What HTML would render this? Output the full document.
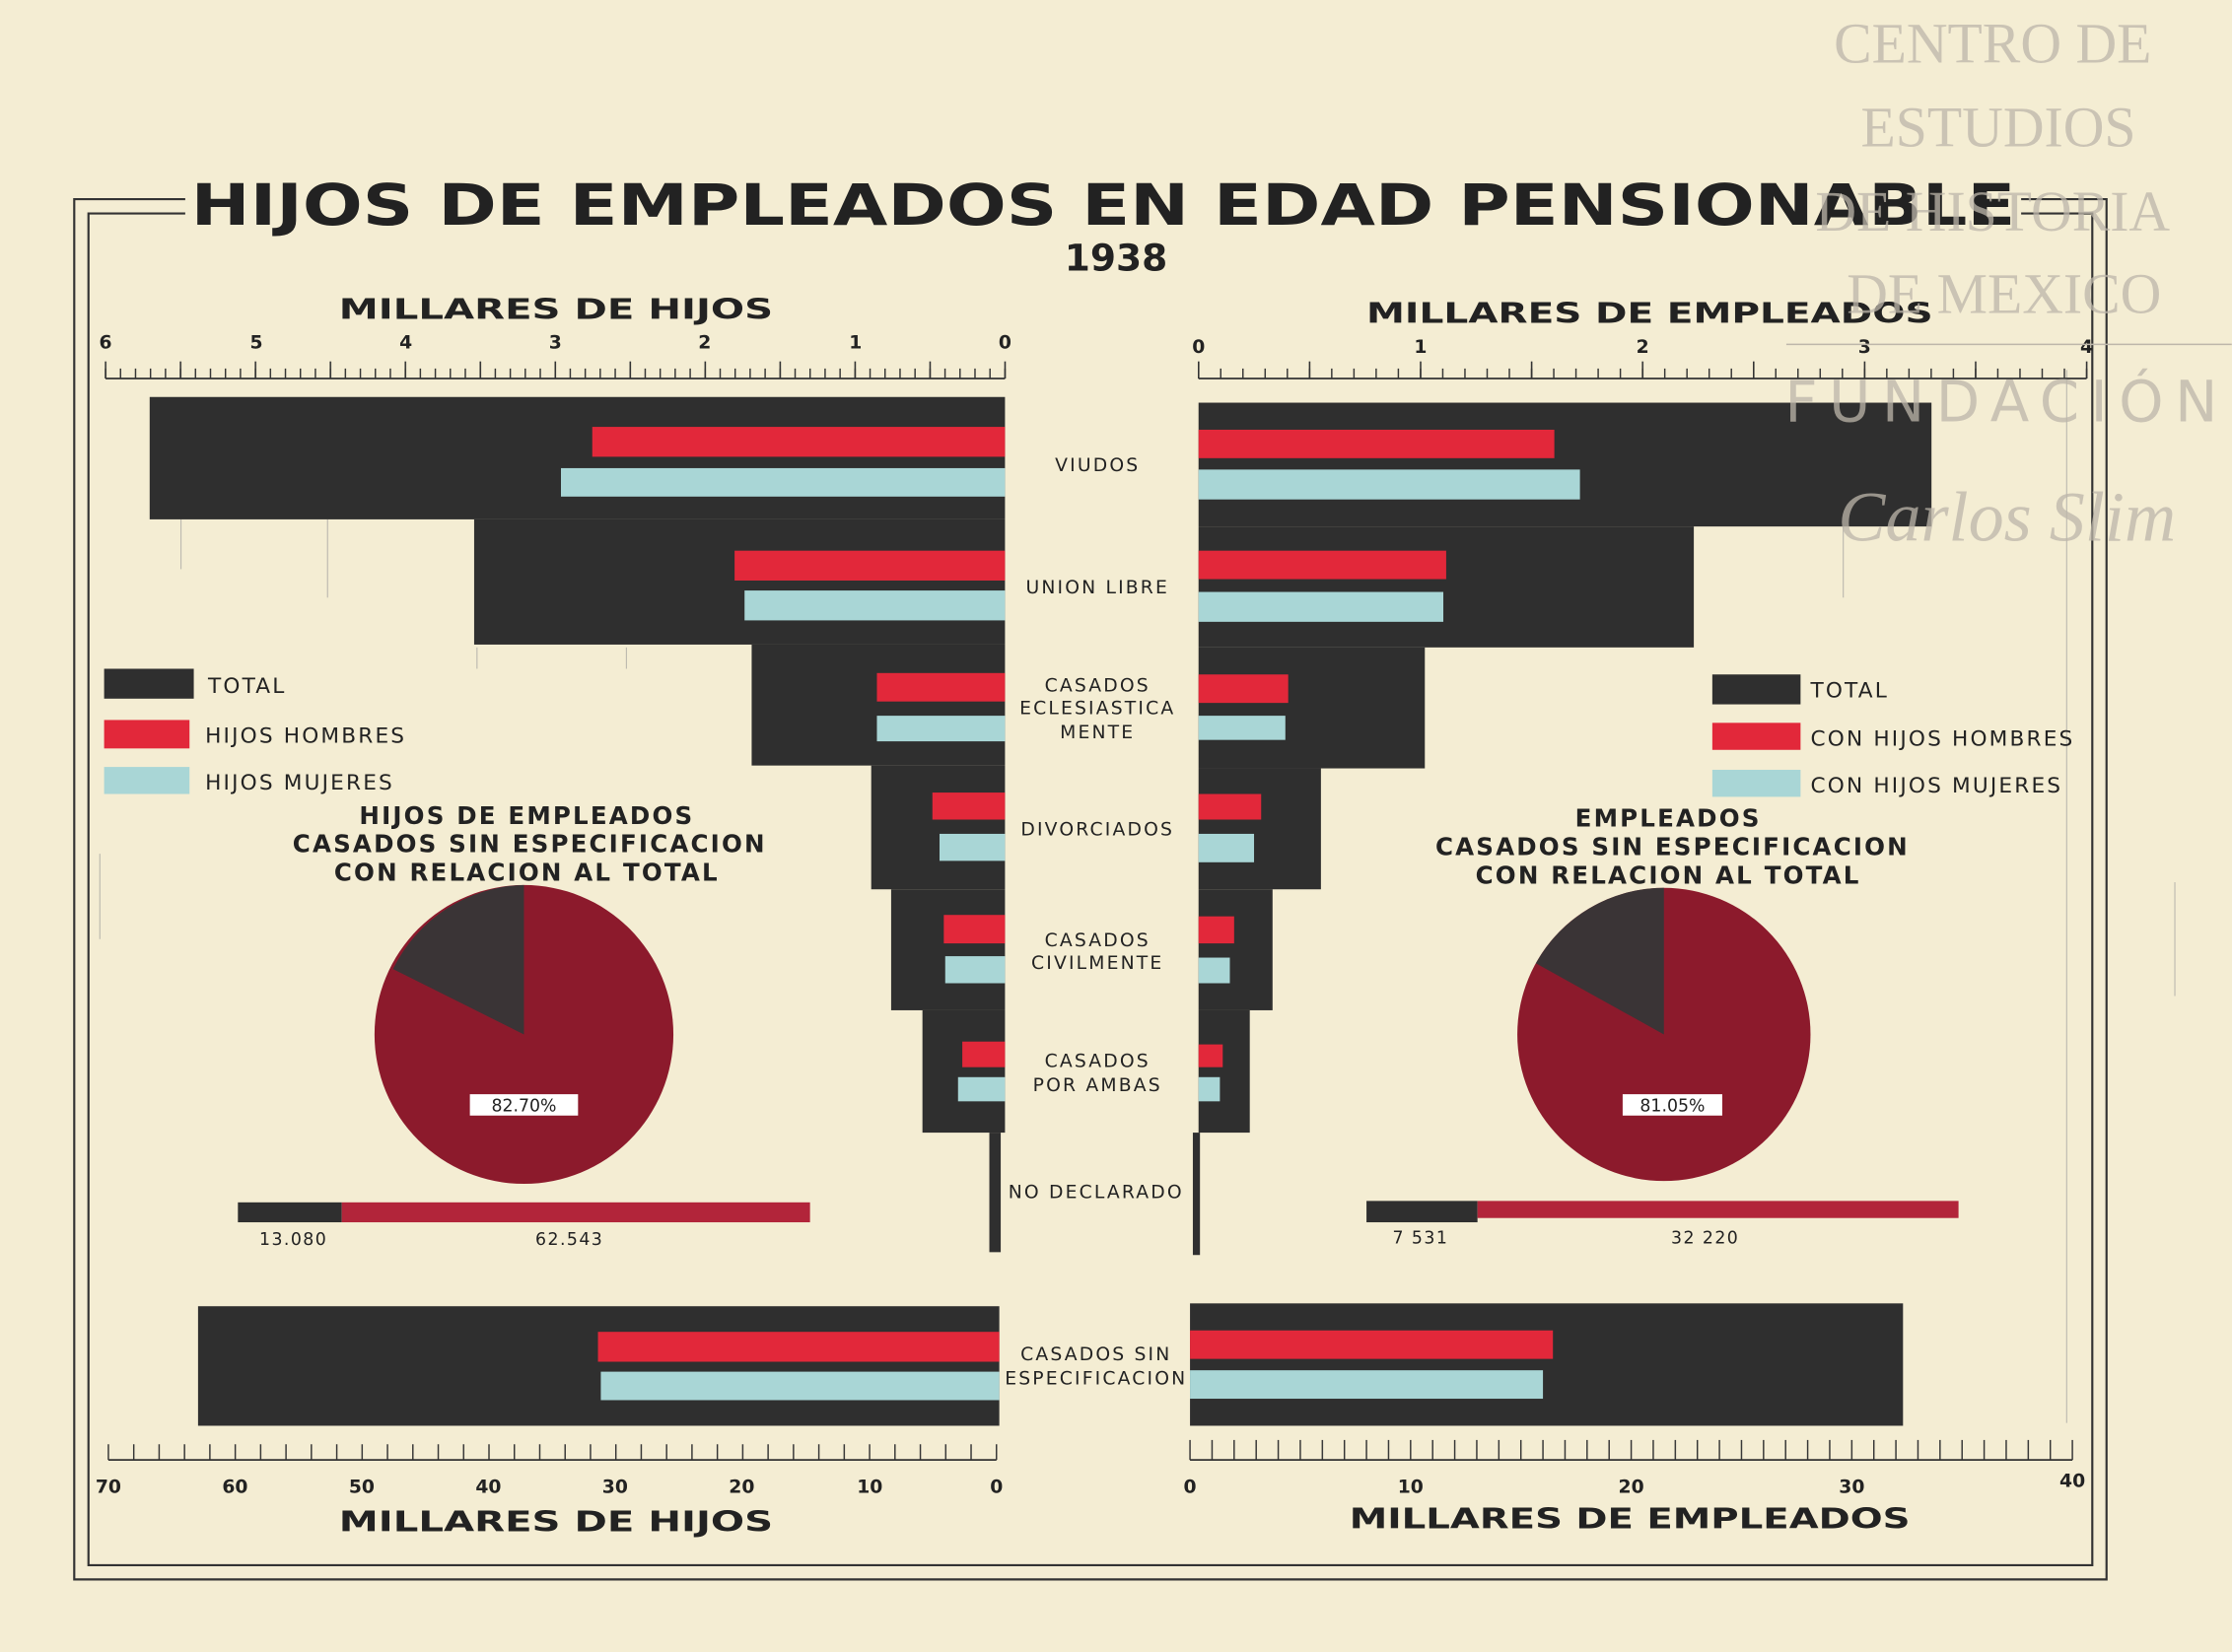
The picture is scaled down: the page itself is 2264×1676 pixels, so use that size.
<!DOCTYPE html>
<html><head><meta charset="utf-8"><style>
html,body{margin:0;padding:0;background:#f4edd3}
svg{display:block}
text{font-family:"DejaVu Sans","Liberation Sans",sans-serif;fill:#222}
</style></head><body>
<svg width="2264" height="1676" viewBox="0 0 1568 1161" xmlns="http://www.w3.org/2000/svg">
<defs>
<pattern id="pL1" patternUnits="userSpaceOnUse" x="73.5" y="0" width="10.5333" height="1161"><line x1="0.5" y1="259" x2="0.5" y2="266" stroke="#333" stroke-width="1"/></pattern>
<pattern id="pL2" patternUnits="userSpaceOnUse" x="73.5" y="0" width="52.667" height="1161"><line x1="0.5" y1="254" x2="0.5" y2="266" stroke="#333" stroke-width="1.2"/></pattern>
<pattern id="pR1" patternUnits="userSpaceOnUse" x="841.5" y="0" width="15.6" height="1161"><line x1="0.5" y1="259" x2="0.5" y2="266" stroke="#333" stroke-width="1"/></pattern>
<pattern id="pR2" patternUnits="userSpaceOnUse" x="841.5" y="0" width="78" height="1161"><line x1="0.5" y1="254" x2="0.5" y2="266" stroke="#333" stroke-width="1.2"/></pattern>
<pattern id="bL1" patternUnits="userSpaceOnUse" x="75.5" y="0" width="17.829" height="1161"><line x1="0.5" y1="1015" x2="0.5" y2="1026" stroke="#333" stroke-width="1"/></pattern>
<pattern id="bR1" patternUnits="userSpaceOnUse" x="835.5" y="0" width="15.5" height="1161"><line x1="0.5" y1="1012" x2="0.5" y2="1026" stroke="#333" stroke-width="1"/></pattern>
</defs>
<rect width="1568" height="1161" fill="#f4edd3"/>
<rect x="73" y="250" width="635" height="17" fill="url(#pL1)"/>
<rect x="73" y="250" width="635" height="17" fill="url(#pL2)"/>
<rect x="841" y="250" width="627" height="17" fill="url(#pR1)"/>
<rect x="841" y="250" width="627" height="17" fill="url(#pR2)"/>
<rect x="75" y="1005" width="627" height="22" fill="url(#bL1)"/>
<rect x="835" y="1005" width="623" height="22" fill="url(#bR1)"/>
<!-- frame -->
<g fill="none" stroke="#333" stroke-width="1.5">
<path d="M130 140 H52 V1110 H1480 V140 H1420"/>
<path d="M130 150 H62 V1100 H1470 V150 H1420"/>
</g>
<g stroke="#999" stroke-width="0.8" opacity="0.6">
<line x1="127" y1="365" x2="127" y2="400"/><line x1="230" y1="365" x2="230" y2="420"/>
<line x1="335" y1="455" x2="335" y2="470"/><line x1="440" y1="455" x2="440" y2="470"/>
<line x1="1295" y1="370" x2="1295" y2="420"/><line x1="1452" y1="260" x2="1452" y2="1000"/>
<line x1="70" y1="600" x2="70" y2="660"/><line x1="1528" y1="620" x2="1528" y2="700"/>
</g>
<text x="134" y="158" font-size="40" font-weight="bold" textLength="1282" lengthAdjust="spacingAndGlyphs">HIJOS DE EMPLEADOS EN EDAD PENSIONABLE</text>
<text x="784" y="190" font-size="26" font-weight="bold" text-anchor="middle">1938</text>
<text x="238" y="224" font-size="20" font-weight="bold" textLength="305" lengthAdjust="spacingAndGlyphs">MILLARES DE HIJOS</text>
<text x="960" y="227" font-size="20" font-weight="bold" textLength="398" lengthAdjust="spacingAndGlyphs">MILLARES DE EMPLEADOS</text>
<g stroke="#333" stroke-width="1.2">
<line x1="74" y1="266" x2="706" y2="266"/><line x1="842" y1="266" x2="1466" y2="266"/>
<line x1="76" y1="1026" x2="700" y2="1026"/><line x1="836" y1="1026" x2="1456" y2="1026"/>
</g>
<g font-size="13" font-weight="bold" text-anchor="middle">
<text x="74" y="245">6</text><text x="180" y="245">5</text><text x="285" y="245">4</text><text x="390" y="245">3</text><text x="495" y="245">2</text><text x="601" y="245">1</text><text x="706" y="245">0</text>
<text x="842" y="248">0</text><text x="998" y="248">1</text><text x="1154" y="248">2</text><text x="1310" y="248">3</text><text x="1466" y="248">4</text>
<text x="76" y="1049">70</text><text x="165" y="1049">60</text><text x="254" y="1049">50</text><text x="343" y="1049">40</text><text x="432" y="1049">30</text><text x="521" y="1049">20</text><text x="611" y="1049">10</text><text x="700" y="1049">0</text>
<text x="836" y="1049">0</text><text x="991" y="1049">10</text><text x="1146" y="1049">20</text><text x="1301" y="1049">30</text><text x="1456" y="1045">40</text>
</g>
<text x="238" y="1076" font-size="20" font-weight="bold" textLength="305" lengthAdjust="spacingAndGlyphs">MILLARES DE HIJOS</text>
<text x="948" y="1074" font-size="20" font-weight="bold" textLength="394" lengthAdjust="spacingAndGlyphs">MILLARES DE EMPLEADOS</text>
<g fill="#2f2f2f">
<rect x="105" y="279" width="601" height="86"/><rect x="333" y="365" width="373" height="88"/>
<rect x="528" y="453" width="178" height="85"/><rect x="612" y="538" width="94" height="87"/>
<rect x="626" y="625" width="80" height="85"/><rect x="648" y="710" width="58" height="86"/>
<rect x="695" y="796" width="8" height="84"/><rect x="139" y="918" width="563" height="84"/>
<rect x="842" y="283" width="515" height="87"/><rect x="842" y="370" width="348" height="85"/>
<rect x="842" y="455" width="159" height="85"/><rect x="842" y="540" width="86" height="85"/>
<rect x="842" y="625" width="52" height="85"/><rect x="842" y="710" width="36" height="86"/>
<rect x="838" y="796" width="5" height="86"/><rect x="836" y="916" width="501" height="86"/>
</g>
<g fill="#e2283a">
<rect x="416" y="300" width="290" height="21"/><rect x="516" y="387" width="190" height="21"/>
<rect x="616" y="473" width="90" height="20"/><rect x="655" y="557" width="51" height="19"/>
<rect x="663" y="643" width="43" height="20"/><rect x="676" y="732" width="30" height="18"/>
<rect x="420" y="936" width="282" height="21"/>
<rect x="842" y="302" width="250" height="20"/><rect x="842" y="387" width="174" height="20"/>
<rect x="842" y="474" width="63" height="20"/><rect x="842" y="558" width="44" height="18"/>
<rect x="842" y="644" width="25" height="19"/><rect x="842" y="734" width="17" height="16"/>
<rect x="836" y="935" width="255" height="20"/>
</g>
<g fill="#a9d6d6">
<rect x="394" y="329" width="312" height="20"/><rect x="523" y="415" width="183" height="21"/>
<rect x="616" y="503" width="90" height="18"/><rect x="660" y="586" width="46" height="19"/>
<rect x="664" y="672" width="42" height="19"/><rect x="673" y="757" width="33" height="17"/>
<rect x="422" y="964" width="280" height="20"/>
<rect x="842" y="330" width="268" height="21"/><rect x="842" y="416" width="172" height="21"/>
<rect x="842" y="503" width="61" height="17"/><rect x="842" y="586" width="39" height="20"/>
<rect x="842" y="673" width="22" height="18"/><rect x="842" y="757" width="15" height="17"/>
<rect x="836" y="963" width="248" height="20"/>
</g>
<g font-size="13" text-anchor="middle" letter-spacing="1.5">
<text x="771" y="331">VIUDOS</text><text x="771" y="417">UNION LIBRE</text>
<text x="771" y="486">CASADOS</text><text x="771" y="502">ECLESIASTICA</text><text x="771" y="519">MENTE</text>
<text x="771" y="587">DIVORCIADOS</text>
<text x="771" y="665">CASADOS</text><text x="771" y="681">CIVILMENTE</text>
<text x="771" y="750">CASADOS</text><text x="771" y="767">POR AMBAS</text>
<text x="770" y="842">NO DECLARADO</text>
<text x="770" y="956">CASADOS SIN</text><text x="770" y="973">ESPECIFICACION</text>
</g>
<rect x="73" y="470" width="63" height="21" fill="#2f2f2f"/><rect x="73" y="506" width="60" height="20" fill="#e2283a"/><rect x="73" y="539" width="60" height="19" fill="#a9d6d6"/>
<g font-size="15" letter-spacing="1.5"><text x="146" y="487">TOTAL</text><text x="144" y="522">HIJOS HOMBRES</text><text x="144" y="555">HIJOS MUJERES</text>
<text x="1272" y="490">TOTAL</text><text x="1272" y="524">CON HIJOS HOMBRES</text><text x="1272" y="557">CON HIJOS MUJERES</text></g>
<rect x="1203" y="474" width="62" height="21" fill="#2f2f2f"/><rect x="1203" y="508" width="62" height="19" fill="#e2283a"/><rect x="1203" y="541" width="62" height="19" fill="#a9d6d6"/>
<g font-size="17" font-weight="bold" text-anchor="middle" letter-spacing="1.5">
<text x="370" y="579">HIJOS DE EMPLEADOS</text><text x="372" y="599">CASADOS SIN ESPECIFICACION</text><text x="370" y="619">CON RELACION AL TOTAL</text>
<text x="1172" y="581">EMPLEADOS</text><text x="1175" y="601">CASADOS SIN ESPECIFICACION</text><text x="1172" y="621">CON RELACION AL TOTAL</text>
</g>
<circle cx="368" cy="727" r="105" fill="#8c1a2c"/>
<path d="M368 727 L368 622 A105 105 0 0 0 276 681 Z" fill="#3a3436"/>
<rect x="330" y="769" width="76" height="15" fill="#fff"/><text x="368" y="781" font-size="12" text-anchor="middle">82.70%</text>
<circle cx="1169" cy="727" r="103" fill="#8c1a2c"/>
<path d="M1169 727 L1169 624 A103 103 0 0 0 1079 677 Z" fill="#3a3436"/>
<rect x="1140" y="769" width="70" height="15" fill="#fff"/><text x="1175" y="781" font-size="12" text-anchor="middle">81.05%</text>
<rect x="167" y="845" width="73" height="14" fill="#2f2f2f"/><rect x="240" y="845" width="329" height="14" fill="#b2253a"/>
<rect x="960" y="844" width="78" height="15" fill="#2f2f2f"/><rect x="1038" y="844" width="338" height="12" fill="#b2253a"/>
<g font-size="12" text-anchor="middle" letter-spacing="1"><text x="206" y="875">13.080</text><text x="400" y="875">62.543</text><text x="998" y="874">7 531</text><text x="1198" y="874">32 220</text></g>
<g font-family="Liberation Serif,serif" opacity="0.75" text-anchor="middle">
<text x="1400" y="44" font-size="40" style="fill:#bdb6aa;font-family:'Liberation Serif',serif">CENTRO DE</text>
<text x="1404" y="103" font-size="40" style="fill:#bdb6aa;font-family:'Liberation Serif',serif">ESTUDIOS</text>
<text x="1400" y="162" font-size="40" style="fill:#bdb6aa;font-family:'Liberation Serif',serif">DE HISTORIA</text>
<text x="1408" y="220" font-size="40" style="fill:#bdb6aa;font-family:'Liberation Serif',serif">DE MEXICO</text>
<text x="1410" y="296" font-size="40" letter-spacing="8" style="fill:#bdb6aa">FUNDACIÓN</text>
<text x="1410" y="380" font-size="50" font-style="italic" style="fill:#bdb6aa;font-family:'Liberation Serif',serif">Carlos Slim</text>
</g>
<line x1="1255" y1="242" x2="1568" y2="242" stroke="#bdb6aa"/>
</svg>
</body></html>
